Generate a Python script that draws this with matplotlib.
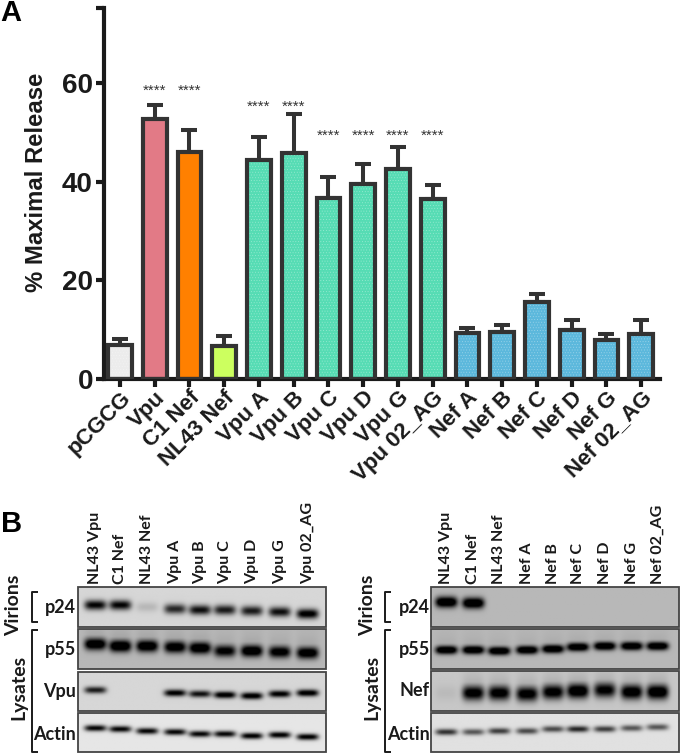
import matplotlib
matplotlib.use("Agg")
import matplotlib.pyplot as plt
import numpy as np
from matplotlib.patches import Rectangle

W, H = 680, 755

# Panel A values
categories = ["pCGCG", "Vpu", "C1 Nef", "NL43 Nef", "Vpu A", "Vpu B", "Vpu C", "Vpu D",
              "Vpu G", "Vpu 02_AG", "Nef A", "Nef B", "Nef C", "Nef D", "Nef G", "Nef 02_AG"]
release = [6.9, 52.7, 46.0, 6.7, 44.3, 45.9, 36.6, 39.5, 42.6, 36.4, 9.4, 9.6, 15.6, 10.0, 8.0, 9.2]
err_top = [8.2, 55.5, 50.5, 8.8, 49.0, 53.7, 41.0, 43.6, 47.0, 39.3, 10.4, 11.0, 17.2, 12.0, 9.1, 12.0]
bar_colors = ["#ececec", "#e27a86", "#ff8000", "#ccff5f", "#56dcb4", "#56dcb4", "#56dcb4", "#56dcb4",
              "#56dcb4", "#56dcb4", "#5cb8dc", "#5cb8dc", "#5cb8dc", "#5cb8dc", "#5cb8dc", "#5cb8dc"]
star_idx = [1, 2, 4, 5, 6, 7, 8, 9]
star_y = [58.4, 58.4, 55.2, 55.2, 49.2, 49.2, 49.2, 49.2]
plain_bars = [1, 2, 3]

# Panel B lanes and bands (band centres are in image pixels)
lanes_left = ["NL43 Vpu", "C1 Nef", "NL43 Nef", "Vpu A", "Vpu B", "Vpu C", "Vpu D", "Vpu G", "Vpu 02_AG"]
lanes_right = ["NL43 Vpu", "C1 Nef", "NL43 Nef", "Nef A", "Nef B", "Nef C", "Nef D", "Nef G", "Nef 02_AG"]
lane_x_left = [95, 120, 147, 175, 200, 225, 252, 280, 308]
lane_x_right = [446, 473, 499, 527, 553, 578, 605, 632, 658]

p24_l = [.85, .85, .12, .7, .8, .75, .75, .8, .92]
p24_l_y = [605, 605, 607, 609, 610, 610, 611, 612, 614]
p55_l = [.95, 1, .95, .9, .95, .8, .95, .85, .9]
p55_l_y = [644, 646, 646, 647, 648, 651, 651, 652, 653]
vpu_l = [.75, 0, 0, .9, .8, .95, .95, .9, .95]
vpu_l_y = [690, 693, 693, 693, 694, 695, 696, 694, 693]
actin_l = [.9, .9, .9, .9, .9, .9, .95, .95, .95]
actin_l_y = [728, 729, 731, 732, 734, 734, 736, 735, 737]

p24_r = [1, 1, 0, 0, 0, 0, 0, 0, 0]
p24_r_y = [602, 603, 603, 603, 603, 603, 603, 603, 603]
p55_r = [1, 1, 1, 1, 1, 1, 1, 1, 1]
p55_r_y = [650, 650, 651, 650, 649, 647, 646, 646, 646]
nef_r = [.05, .9, .9, .9, .9, 1, .85, .95, 1]
nef_r_y = [693, 693, 693, 694, 692, 691, 690, 692, 692]
actin_r = [.7, .55, .65, .6, .6, .75, .65, .55, .55]
actin_r_y = [732, 732, 731, 731, 729, 729, 729, 728, 727]

arial = "Liberation Sans"
calibri = "Lato"
ink = "#1a1a1a"
edge = "#333333"

fig = plt.figure(figsize=(W / 100, H / 100), dpi=100)
plt.rcParams["hatch.linewidth"] = 0.35

# Panel A
ax = fig.add_axes([104 / W, 1 - 379 / H, (660 - 104) / W, (379 - 8) / H])
x = np.arange(len(categories))
fills = ax.bar(x, release, 0.68, color=bar_colors, edgecolor="#ffffff55", hatch="......", linewidth=0, zorder=2)
for i in plain_bars:
    fills[i].set_hatch(None)
ax.bar(x, release, 0.68, fill=False, edgecolor=edge, linewidth=3, zorder=3)
ax.errorbar(x, release, yerr=[np.zeros(len(x)), np.array(err_top) - np.array(release)], fmt="none",
            ecolor=edge, elinewidth=2.9, capsize=5.5, capthick=2.9, zorder=1)
for i, y in zip(star_idx, star_y):
    ax.text(x[i], y, "****", fontsize=11, ha="center", va="center", color=edge, family=arial)

ax.set_xlim(-0.46, 15.54)
ax.set_ylim(0, 75.2)
ax.set_yticks([0, 20, 40, 60, 75.2])
ax.set_yticklabels(["0", "20", "40", "60", ""], fontsize=20, fontweight="bold", family=arial, color=ink)
ax.set_xticks(x)
ax.set_xticklabels(categories, rotation=45, ha="right", rotation_mode="anchor",
                   fontsize=16, fontweight="bold", family=arial, color=ink)
ax.tick_params(axis="y", length=6, width=3, color=ink, pad=2)
ax.tick_params(axis="x", length=6, width=3, color=ink, pad=0)
for s in ["top", "right"]:
    ax.spines[s].set_visible(False)
for s in ["left", "bottom"]:
    ax.spines[s].set_linewidth(3)
    ax.spines[s].set_color(ink)

# Whole figure overlay in image pixels, for labels and blots
ov = fig.add_axes([0, 0, 1, 1], zorder=5)
ov.patch.set_alpha(0)


def blot(box, lane_x, levels, ys, bg, half_h, half_w=11, smear=0.0):
    x0, y0, x1, y1 = box
    xx, yy = np.meshgrid(np.arange(x0, x1 + 1), np.arange(y0, y1 + 1))
    img = np.full(xx.shape, float(bg))
    for lx, lev, ly in zip(lane_x, levels, ys):
        shape = np.exp(-((xx - lx) / half_w) ** 4)
        band = np.exp(-((yy - ly) / half_h) ** 2)
        trail = smear * np.exp(-np.clip(ly - yy, 0, None) / 9.0) * (yy < ly)
        img = img - lev * shape * np.maximum(band, trail)
    ov.imshow(img, cmap="gray", vmin=0, vmax=1, extent=(x0, x1, y1, y0), aspect="auto",
              interpolation="bilinear")
    ov.add_patch(Rectangle((x0, y0), x1 - x0, y1 - y0, fill=False, edgecolor="#444444", linewidth=1.3))


blot((78, 587, 326, 627), lane_x_left, p24_l, p24_l_y, .84, 5)
blot((78, 629, 326, 669), lane_x_left, p55_l, p55_l_y, .72, 6, smear=.2)
blot((78, 672, 326, 711), lane_x_left, vpu_l, vpu_l_y, .84, 3.5)
blot((78, 713, 326, 752), lane_x_left, actin_l, actin_l_y, .9, 3.2)
blot((431, 587, 679, 627), lane_x_right, p24_r, p24_r_y, .72, 5.5)
blot((431, 629, 679, 669), lane_x_right, p55_r, p55_r_y, .72, 4.2, smear=.1)
blot((431, 671, 679, 711), lane_x_right, nef_r, nef_r_y, .78, 7.5, smear=.35)
blot((431, 713, 679, 752), lane_x_right, actin_r, actin_r_y, .88, 3.2)

for lx, name in zip(lane_x_left, lanes_left):
    ov.text(lx, 584, name, rotation=90, ha="center", va="bottom", fontsize=11.5, fontweight="bold",
            family=calibri, color=ink)
for lx, name in zip(lane_x_right, lanes_right):
    ov.text(lx, 584, name, rotation=90, ha="center", va="bottom", fontsize=11.5, fontweight="bold",
            family=calibri, color=ink)

for xr, names in [(76, ["p24", "p55", "Vpu", "Actin"]), (430, ["p24", "p55", "Nef", "Actin"])]:
    for yc, name in zip([607, 650, 691, 734], names):
        ov.text(xr, yc, name, ha="right", va="center", fontsize=13, fontweight="bold",
                family=calibri, color=ink)

for xb, xv, xl in [(32, 14, 19), (385, 368, 372)]:
    for y0, y1 in [(592, 622), (630, 752)]:
        ov.plot([xb + 6, xb, xb, xb + 6], [y0, y0, y1, y1], color=ink, lw=1.4, solid_capstyle="butt")
    ov.text(xv, 605, "Virions", rotation=90, ha="center", va="center", fontsize=14, fontweight="bold",
            family=calibri, color=ink)
    ov.text(xl, 687, "Lysates", rotation=90, ha="center", va="center", fontsize=14, fontweight="bold",
            family=calibri, color=ink)

ov.text(37, 182, "% Maximal Release", rotation=90, ha="center", va="center", fontsize=17.2,
        fontweight="bold", family=arial, color=ink)
ov.text(0, 21, "A", fontsize=21, fontweight="bold", family=arial, color="black", va="baseline")
ov.text(1, 532, "B", fontsize=21, fontweight="bold", family=arial, color="black", va="baseline")

ov.set_xlim(0, W)
ov.set_ylim(H, 0)
ov.axis("off")

fig.savefig("out.png", dpi=100)
